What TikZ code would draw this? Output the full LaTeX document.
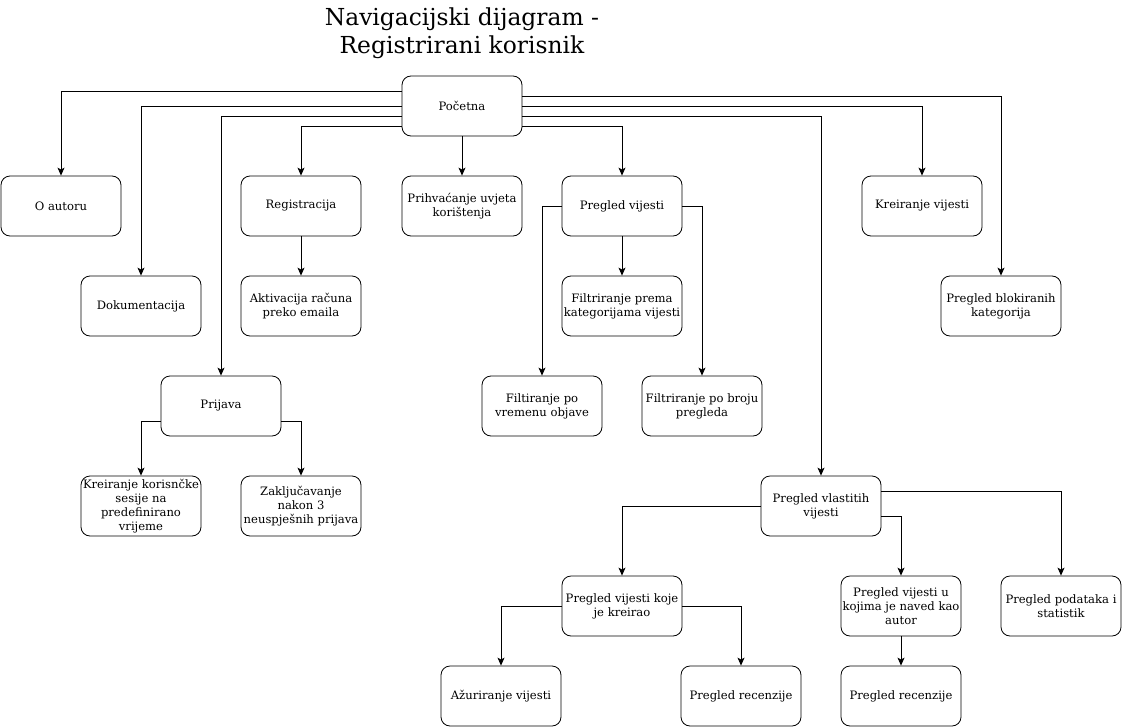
\documentclass[tikz,border=0pt]{standalone}
\usepackage{fontspec}
\setmainfont{DejaVu Serif}
\usepackage{tikz}
\usetikzlibrary{arrows.meta,positioning,calc}

\tikzset{
  box/.style={draw, rounded corners=9pt, minimum width=120pt, minimum height=60pt,
    inner sep=1pt, align=center, font=\fontsize{11.6}{14}\selectfont},
  arr/.style={-{Stealth[length=8pt,width=7pt,inset=2pt]}}
}

\begin{document}
\begin{tikzpicture}[x=1pt,y=-1pt,line width=0.8pt]
  \useasboundingbox (0,0) rectangle (1122,728);
  \node[align=center, font=\fontsize{23.4}{28}\selectfont] (naslov) at (462,33) {Navigacijski dijagram -\\Registrirani korisnik};

  % prvi red
  \node[box] (pocetna) at (462,106) {Početna};
  \node[box] (autor) at (61,206) {O autoru};
  \node[box] (registracija) at (301,206) {Registracija};
  \node[box] (uvjeti) at (462,206) {Prihvaćanje uvjeta\\korištenja};
  \node[box] (pregled) at (622,206) {Pregled vijesti};
  \node[box] (kreiranje) at (922,206) {Kreiranje vijesti};

  \node[box] (dokumentacija) at (141,306) {Dokumentacija};
  \node[box] (aktivacija) at (301,306) {Aktivacija računa\\preko emaila};
  \node[box] (kategorije) at (622,306) {Filtriranje prema\\kategorijama vijesti};
  \node[box] (blokirane) at (1001,306) {Pregled blokiranih\\kategorija};

  \node[box] (prijava) at (221,406) {Prijava};
  \node[box] (vremenu) at (542,406) {Filtiranje po\\vremenu objave};
  \node[box] (broju) at (702,406) {Filtriranje po broju\\pregleda};

  \node[box] (sesija) at (141,506) {Kreiranje korisnčke\\sesije na\\predefinirano\\vrijeme};
  \node[box] (zakljucavanje) at (301,506) {Zaključavanje\\nakon 3\\neuspješnih prijava};
  \node[box] (vlastite) at (821,506) {Pregled vlastitih\\vijesti};

  \node[box] (kreirao) at (622,606) {Pregled vijesti koje\\je kreirao};
  \node[box] (naveden) at (901,606) {Pregled vijesti u\\kojima je naved kao\\autor};
  \node[box] (statistika) at (1061,606) {Pregled podataka i\\statistik};

  \node[box] (azuriranje) at (501,696) {Ažuriranje vijesti};
  \node[box] (recenzijaA) at (741,696) {Pregled recenzije};
  \node[box] (recenzijaB) at (901,696) {Pregled recenzije};

  % veze iz pocetne
  \draw[arr] ([yshift=15pt]pocetna.west) -| (autor);
  \draw[arr] (pocetna.west) -| (dokumentacija);
  \draw[arr] ([yshift=-10pt]pocetna.west) -| (prijava);
  \draw[arr] ([yshift=-20pt]pocetna.west) -| (registracija);
  \draw[arr] (pocetna) -- (uvjeti);
  \draw[arr] ([yshift=10pt]pocetna.east) -| (blokirane);
  \draw[arr] (pocetna.east) -| (kreiranje);
  \draw[arr] ([yshift=-10pt]pocetna.east) -| (vlastite);
  \draw[arr] ([yshift=-20pt]pocetna.east) -| (pregled);

  \draw[arr] (registracija) -- (aktivacija);
  \draw[arr] (pregled) -- (kategorije);
  \draw[arr] (pregled.west) -| (vremenu);
  \draw[arr] (pregled.east) -| (broju);
  \draw[arr] ([yshift=-15pt]prijava.west) -| (sesija);
  \draw[arr] ([yshift=-15pt]prijava.east) -| (zakljucavanje);

  \draw[arr] (vlastite.west) -| (kreirao);
  \draw[arr] ([yshift=15pt]vlastite.east) -| (statistika);
  \draw[arr] ([yshift=-10pt]vlastite.east) -| (naveden);
  \draw[arr] (kreirao.west) -| (azuriranje);
  \draw[arr] (kreirao.east) -| (recenzijaA);
  \draw[arr] (naveden) -- (recenzijaB);
\end{tikzpicture}
\end{document}
